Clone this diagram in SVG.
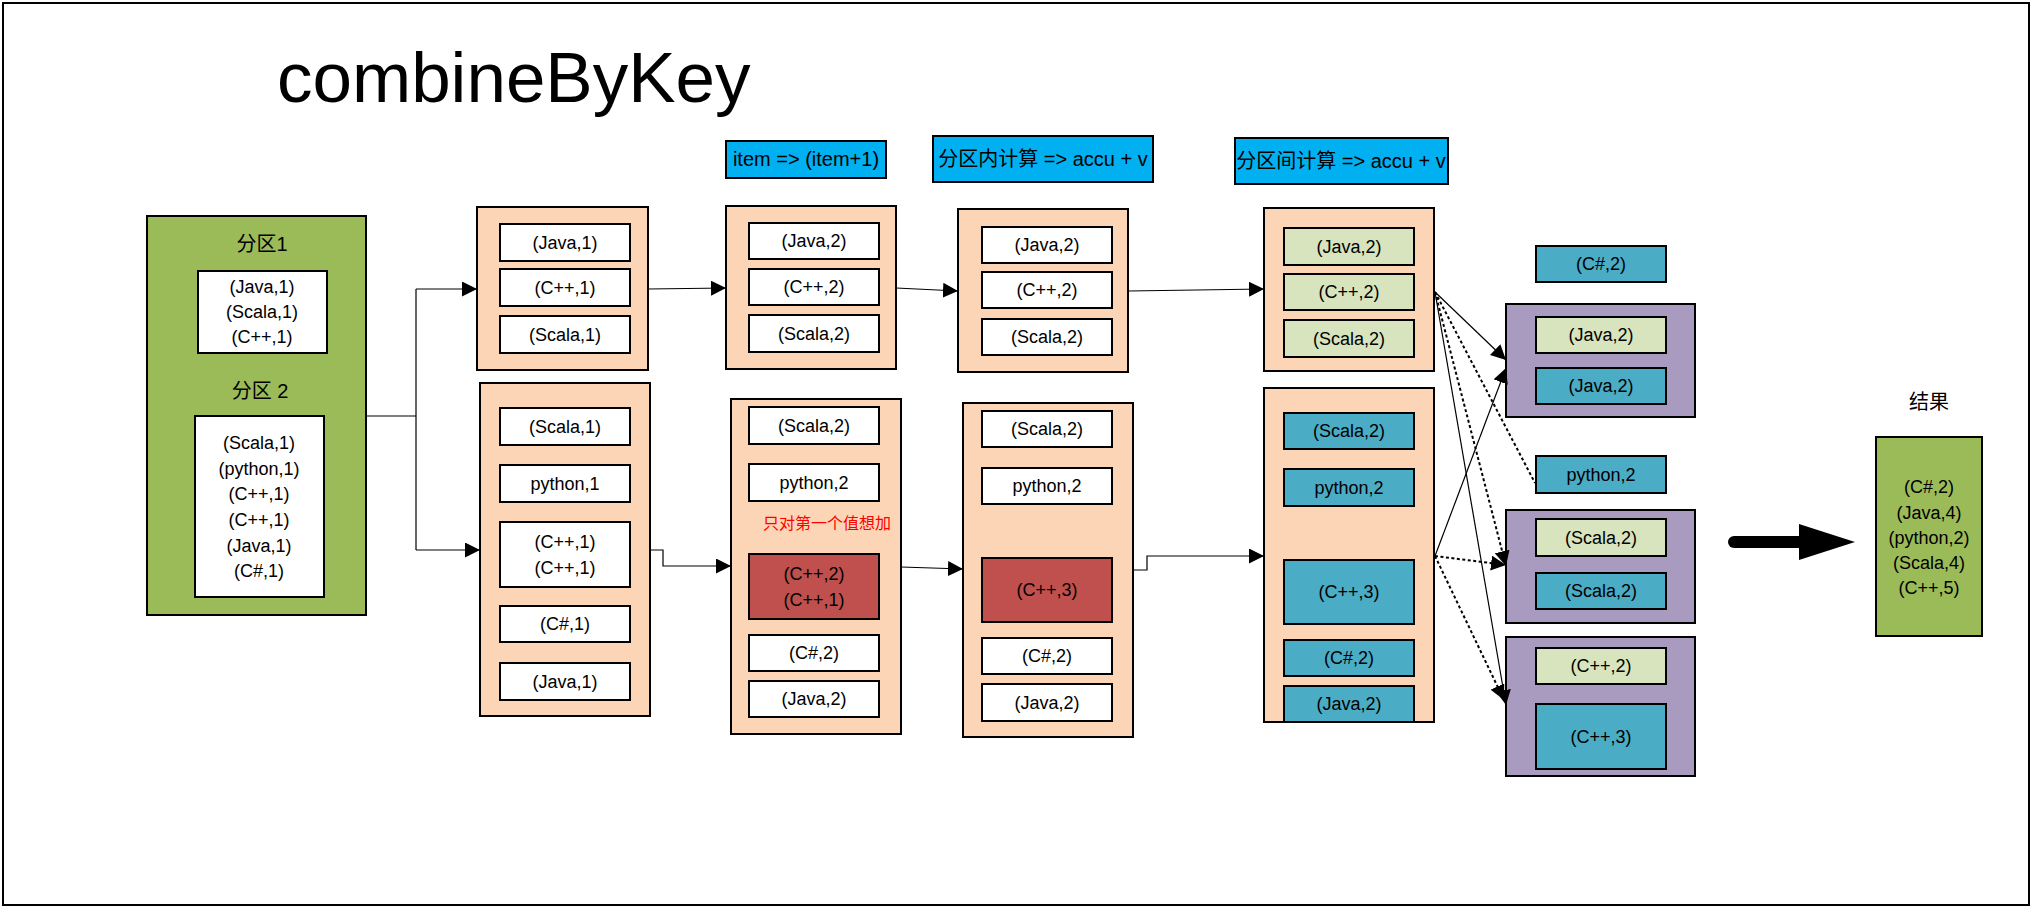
<svg xmlns="http://www.w3.org/2000/svg" width="2035" height="909" viewBox="0 0 2035 909">
<defs>
<marker id="ah" markerUnits="userSpaceOnUse" markerWidth="15" markerHeight="15" refX="15" refY="7.5" orient="auto" viewBox="0 0 15 15">
<path d="M0,0 L15,7.5 L0,15 z" fill="#000"/>
</marker>
<style>
.t{font-family:"Liberation Sans","Noto Sans CJK SC",sans-serif;font-size:18px;text-anchor:middle;fill:#000}
.l{font-size:20px}
.peach{fill:#FBD5B5;stroke:#000;stroke-width:2}
.w{fill:#fff;stroke:#000;stroke-width:2}
.teal{fill:#4BACC6;stroke:#000;stroke-width:2}
.lg{fill:#D7E4BD;stroke:#000;stroke-width:2}
.red{fill:#C0504D;stroke:#000;stroke-width:2}
.pur{fill:#A99BC0;stroke:#000;stroke-width:2}
.grn{fill:#9BBB59;stroke:#000;stroke-width:2}
.lbl{fill:#00B0F0;stroke:#000;stroke-width:2}
.c{fill:none;stroke:#000;stroke-width:1.2}
.ca{fill:none;stroke:#000;stroke-width:1.2;marker-end:url(#ah)}
.d{fill:none;stroke:#000;stroke-width:2;stroke-dasharray:3 2.5}
.da{fill:none;stroke:#000;stroke-width:2;stroke-dasharray:3 2.5;marker-end:url(#ah)}
</style>
</defs>
<rect x="0" y="0" width="2035" height="909" fill="#fff"/>
<rect x="3" y="3" width="2026" height="902" fill="none" stroke="#000" stroke-width="2"/>
<text x="277" y="102" class="t" style="font-size:71px;text-anchor:start">combineByKey</text>

<g id="label-map">
<rect x="726" y="141" width="160" height="37" class="lbl"/>
<text x="806" y="166" class="t l">item =&gt; (item+1)</text>
</g>
<g id="label-intra">
<rect x="933" y="136" width="220" height="46" class="lbl"/>
<text x="1043" y="166" class="t l">分区内计算 =&gt; accu + v</text>
</g>
<g id="label-inter">
<rect x="1235" y="138" width="213" height="46" class="lbl"/>
<text x="1341" y="168" class="t l">分区间计算 =&gt; accu + v</text>
</g>

<g id="source">
<rect x="147" y="216" width="219" height="399" class="grn"/>
<text x="262" y="251" class="t l">分区1</text>
<rect x="198" y="271" width="129" height="82" class="w"/>
<text x="262" y="293" class="t">(Java,1)</text>
<text x="262" y="318" class="t">(Scala,1)</text>
<text x="262" y="343" class="t">(C++,1)</text>
<text x="260" y="398" class="t l">分区 2</text>
<rect x="195" y="416" width="129" height="181" class="w"/>
<text x="259" y="449" class="t">(Scala,1)</text>
<text x="259" y="475" class="t">(python,1)</text>
<text x="259" y="500" class="t">(C++,1)</text>
<text x="259" y="526" class="t">(C++,1)</text>
<text x="259" y="552" class="t">(Java,1)</text>
<text x="259" y="577" class="t">(C#,1)</text>
</g>

<g id="p1-initial">
<rect x="477" y="207" width="171" height="163" class="peach"/>
<rect x="500" y="224" width="130" height="37" class="w"/><text x="565" y="249" class="t">(Java,1)</text>
<rect x="500" y="269" width="130" height="37" class="w"/><text x="565" y="294" class="t">(C++,1)</text>
<rect x="500" y="316" width="130" height="37" class="w"/><text x="565" y="341" class="t">(Scala,1)</text>
</g>
<g id="p2-initial">
<rect x="480" y="383" width="170" height="333" class="peach"/>
<rect x="500" y="408" width="130" height="37" class="w"/><text x="565" y="433" class="t">(Scala,1)</text>
<rect x="500" y="465" width="130" height="37" class="w"/><text x="565" y="490" class="t">python,1</text>
<rect x="500" y="522" width="130" height="65" class="w"/><text x="565" y="548" class="t">(C++,1)</text><text x="565" y="574" class="t">(C++,1)</text>
<rect x="500" y="606" width="130" height="36" class="w"/><text x="565" y="630" class="t">(C#,1)</text>
<rect x="500" y="663" width="130" height="37" class="w"/><text x="565" y="688" class="t">(Java,1)</text>
</g>

<g id="p1-map">
<rect x="726" y="206" width="170" height="163" class="peach"/>
<rect x="749" y="223" width="130" height="36" class="w"/><text x="814" y="247" class="t">(Java,2)</text>
<rect x="749" y="269" width="130" height="36" class="w"/><text x="814" y="293" class="t">(C++,2)</text>
<rect x="749" y="315" width="130" height="37" class="w"/><text x="814" y="340" class="t">(Scala,2)</text>
</g>
<g id="p2-map">
<rect x="731" y="399" width="170" height="335" class="peach"/>
<rect x="749" y="407" width="130" height="37" class="w"/><text x="814" y="432" class="t">(Scala,2)</text>
<rect x="749" y="464" width="130" height="37" class="w"/><text x="814" y="489" class="t">python,2</text>
<text x="827" y="529" class="t" style="font-size:16px;fill:#FF0000">只对第一个值想加</text>
<rect x="749" y="554" width="130" height="65" class="red"/><text x="814" y="580" class="t">(C++,2)</text><text x="814" y="606" class="t">(C++,1)</text>
<rect x="749" y="635" width="130" height="36" class="w"/><text x="814" y="659" class="t">(C#,2)</text>
<rect x="749" y="681" width="130" height="36" class="w"/><text x="814" y="705" class="t">(Java,2)</text>
</g>

<g id="p1-intra">
<rect x="958" y="209" width="170" height="163" class="peach"/>
<rect x="982" y="227" width="130" height="36" class="w"/><text x="1047" y="251" class="t">(Java,2)</text>
<rect x="982" y="272" width="130" height="36" class="w"/><text x="1047" y="296" class="t">(C++,2)</text>
<rect x="982" y="319" width="130" height="36" class="w"/><text x="1047" y="343" class="t">(Scala,2)</text>
</g>
<g id="p2-intra">
<rect x="963" y="403" width="170" height="334" class="peach"/>
<rect x="982" y="411" width="130" height="36" class="w"/><text x="1047" y="435" class="t">(Scala,2)</text>
<rect x="982" y="468" width="130" height="36" class="w"/><text x="1047" y="492" class="t">python,2</text>
<rect x="982" y="558" width="130" height="64" class="red"/><text x="1047" y="596" class="t">(C++,3)</text>
<rect x="982" y="638" width="130" height="36" class="w"/><text x="1047" y="662" class="t">(C#,2)</text>
<rect x="982" y="684" width="130" height="37" class="w"/><text x="1047" y="709" class="t">(Java,2)</text>
</g>

<g id="p1-inter">
<rect x="1264" y="208" width="170" height="163" class="peach"/>
<rect x="1284" y="228" width="130" height="37" class="lg"/><text x="1349" y="253" class="t">(Java,2)</text>
<rect x="1284" y="274" width="130" height="36" class="lg"/><text x="1349" y="298" class="t">(C++,2)</text>
<rect x="1284" y="320" width="130" height="37" class="lg"/><text x="1349" y="345" class="t">(Scala,2)</text>
</g>
<g id="p2-inter">
<rect x="1264" y="388" width="170" height="334" class="peach"/>
<rect x="1284" y="413" width="130" height="36" class="teal"/><text x="1349" y="437" class="t">(Scala,2)</text>
<rect x="1284" y="469" width="130" height="37" class="teal"/><text x="1349" y="494" class="t">python,2</text>
<rect x="1284" y="560" width="130" height="64" class="teal"/><text x="1349" y="598" class="t">(C++,3)</text>
<rect x="1284" y="640" width="130" height="36" class="teal"/><text x="1349" y="664" class="t">(C#,2)</text>
<rect x="1284" y="686" width="130" height="36" class="teal"/><text x="1349" y="710" class="t">(Java,2)</text>
</g>

<g id="r-csharp">
<rect x="1536" y="246" width="130" height="36" class="teal"/><text x="1601" y="270" class="t">(C#,2)</text>
</g>
<g id="r-java">
<rect x="1506" y="304" width="189" height="113" class="pur"/>
<rect x="1536" y="317" width="130" height="36" class="lg"/><text x="1601" y="341" class="t">(Java,2)</text>
<rect x="1536" y="368" width="130" height="36" class="teal"/><text x="1601" y="392" class="t">(Java,2)</text>
</g>
<g id="r-python">
<rect x="1536" y="456" width="130" height="37" class="teal"/><text x="1601" y="481" class="t">python,2</text>
</g>
<g id="r-scala">
<rect x="1506" y="510" width="189" height="113" class="pur"/>
<rect x="1536" y="519" width="130" height="37" class="lg"/><text x="1601" y="544" class="t">(Scala,2)</text>
<rect x="1536" y="573" width="130" height="36" class="teal"/><text x="1601" y="597" class="t">(Scala,2)</text>
</g>
<g id="r-cpp">
<rect x="1506" y="637" width="189" height="139" class="pur"/>
<rect x="1536" y="648" width="130" height="36" class="lg"/><text x="1601" y="672" class="t">(C++,2)</text>
<rect x="1536" y="704" width="130" height="65" class="teal"/><text x="1601" y="743" class="t">(C++,3)</text>
</g>

<g id="result">
<text x="1929" y="409" class="t l">结果</text>
<rect x="1876" y="437" width="106" height="199" class="grn"/>
<text x="1929" y="493" class="t">(C#,2)</text>
<text x="1929" y="519" class="t">(Java,4)</text>
<text x="1929" y="544" class="t">(python,2)</text>
<text x="1929" y="569" class="t">(Scala,4)</text>
<text x="1929" y="594" class="t">(C++,5)</text>
</g>

<g id="connectors">
<path d="M366,416 H416 M416,289 V550" class="c"/>
<path d="M416,289 H477" class="ca"/>
<path d="M416,550 H480" class="ca"/>
<path d="M648,289 L726,288" class="ca"/>
<path d="M650,550 H663 V566 H731" class="ca"/>
<path d="M896,288 L958,291" class="ca"/>
<path d="M901,567 L963,569" class="ca"/>
<path d="M1128,291 L1264,289" class="ca"/>
<path d="M1133,570 H1147 V556 H1264" class="ca"/>
<path d="M1435,292 L1506,360" class="ca"/>
<path d="M1435,292 L1506,705" class="ca"/>
<path d="M1435,292 L1506,566" class="da"/>
<path d="M1435,292 L1535,483" class="d"/>
<path d="M1435,556 L1506,368" class="ca"/>
<path d="M1435,556 L1506,565" class="da"/>
<path d="M1435,556 L1504,700" class="da"/>
<path d="M1734,542 H1802" fill="none" stroke="#000" stroke-width="12" stroke-linecap="round"/>
<polygon points="1799,524 1855,542 1799,560" fill="#000"/>
</g>
</svg>
